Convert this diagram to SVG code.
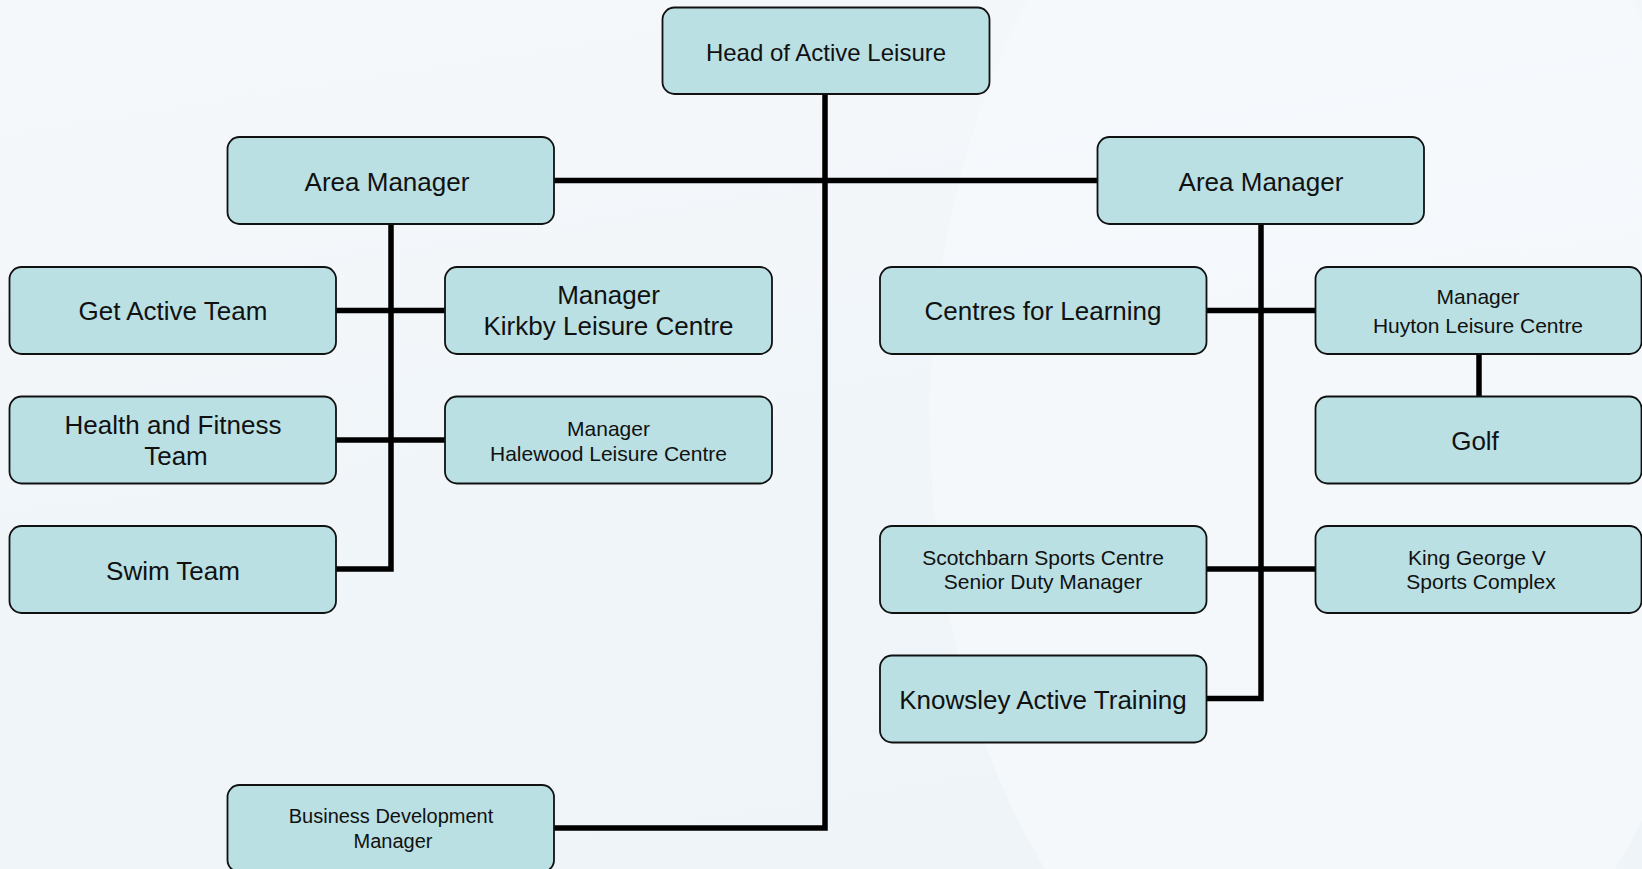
<svg xmlns="http://www.w3.org/2000/svg" width="1642" height="869" viewBox="0 0 1642 869">
<defs>
<style>
.box{fill:#bae0e3;stroke:#111;stroke-width:1.8}
.t{font-family:"Liberation Sans",Arial,sans-serif;fill:#111;text-anchor:middle}
.conn{fill:none;stroke:#000;stroke-width:5.5;stroke-linecap:butt;stroke-linejoin:miter}
</style>
<linearGradient id="bg" x1="0" y1="0" x2="0.3" y2="1">
<stop offset="0" stop-color="#f5f8fb"/>
<stop offset="1" stop-color="#eef4f8"/>
</linearGradient>
</defs>
<rect x="0" y="0" width="1642" height="869" fill="url(#bg)"/>
<ellipse cx="1330" cy="420" rx="400" ry="640" fill="#f6f9fc" opacity="0.7"/>

<g id="connectors" class="conn">
<polyline points="825,94 825,828 554,828"/>
<line x1="554" y1="180.5" x2="1097.5" y2="180.5"/>
<polyline points="391,224 391,569 336,569"/>
<line x1="336" y1="310.5" x2="445" y2="310.5"/>
<line x1="336" y1="440" x2="445" y2="440"/>
<polyline points="1261,224 1261,698.5 1206.5,698.5"/>
<line x1="1206.5" y1="310.5" x2="1315" y2="310.5"/>
<line x1="1206.5" y1="569" x2="1315" y2="569"/>
<line x1="1479" y1="354" x2="1479" y2="396.5"/>
</g>

<g id="head">
<rect class="box" x="662.5" y="7.5" width="327" height="86.5" rx="12"/>
<text class="t" x="826" y="60.5" font-size="24">Head of Active Leisure</text>
</g>
<g id="area-manager-left">
<rect class="box" x="227.5" y="137" width="326.5" height="87" rx="12"/>
<text class="t" x="387" y="191" font-size="26">Area Manager</text>
</g>
<g id="area-manager-right">
<rect class="box" x="1097.5" y="137" width="326.5" height="87" rx="12"/>
<text class="t" x="1261" y="191" font-size="26">Area Manager</text>
</g>
<g id="get-active-team">
<rect class="box" x="9.5" y="267" width="326.5" height="87" rx="12"/>
<text class="t" x="173" y="320" font-size="26">Get Active Team</text>
</g>
<g id="kirkby">
<rect class="box" x="445" y="267" width="327" height="87" rx="12"/>
<text class="t" x="608.5" y="304" font-size="26">Manager</text>
<text class="t" x="608.5" y="334.5" font-size="26">Kirkby Leisure Centre</text>
</g>
<g id="health-fitness">
<rect class="box" x="9.5" y="396.5" width="326.5" height="87" rx="12"/>
<text class="t" x="173" y="434" font-size="26">Health and Fitness</text>
<text class="t" x="176" y="465" font-size="26">Team</text>
</g>
<g id="halewood">
<rect class="box" x="445" y="396.5" width="327" height="87" rx="12"/>
<text class="t" x="608.5" y="435.5" font-size="21">Manager</text>
<text class="t" x="608.5" y="460.5" font-size="21">Halewood Leisure Centre</text>
</g>
<g id="swim-team">
<rect class="box" x="9.5" y="526" width="326.5" height="87" rx="12"/>
<text class="t" x="173" y="580" font-size="26">Swim Team</text>
</g>
<g id="business-development">
<rect class="box" x="227.5" y="785" width="326.5" height="87" rx="12"/>
<text class="t" x="391" y="823" font-size="20">Business Development</text>
<text class="t" x="393" y="848" font-size="20">Manager</text>
</g>
<g id="centres-for-learning">
<rect class="box" x="880" y="267" width="326.5" height="87" rx="12"/>
<text class="t" x="1043" y="320" font-size="26">Centres for Learning</text>
</g>
<g id="huyton">
<rect class="box" x="1315.5" y="267" width="326" height="87" rx="12"/>
<text class="t" x="1478" y="304" font-size="21">Manager</text>
<text class="t" x="1478" y="333" font-size="21">Huyton Leisure Centre</text>
</g>
<g id="golf">
<rect class="box" x="1315.5" y="396.5" width="326" height="87" rx="12"/>
<text class="t" x="1475" y="449.5" font-size="26">Golf</text>
</g>
<g id="scotchbarn">
<rect class="box" x="880" y="526" width="326.5" height="87" rx="12"/>
<text class="t" x="1043" y="565" font-size="21">Scotchbarn Sports Centre</text>
<text class="t" x="1043" y="589" font-size="21">Senior Duty Manager</text>
</g>
<g id="king-george">
<rect class="box" x="1315.5" y="526" width="326" height="87" rx="12"/>
<text class="t" x="1477" y="565" font-size="21">King George V</text>
<text class="t" x="1481" y="588.5" font-size="21">Sports Complex</text>
</g>
<g id="knowsley-active-training">
<rect class="box" x="880" y="655.5" width="326.5" height="87" rx="12"/>
<text class="t" x="1043" y="708.5" font-size="26">Knowsley Active Training</text>
</g>
</svg>
